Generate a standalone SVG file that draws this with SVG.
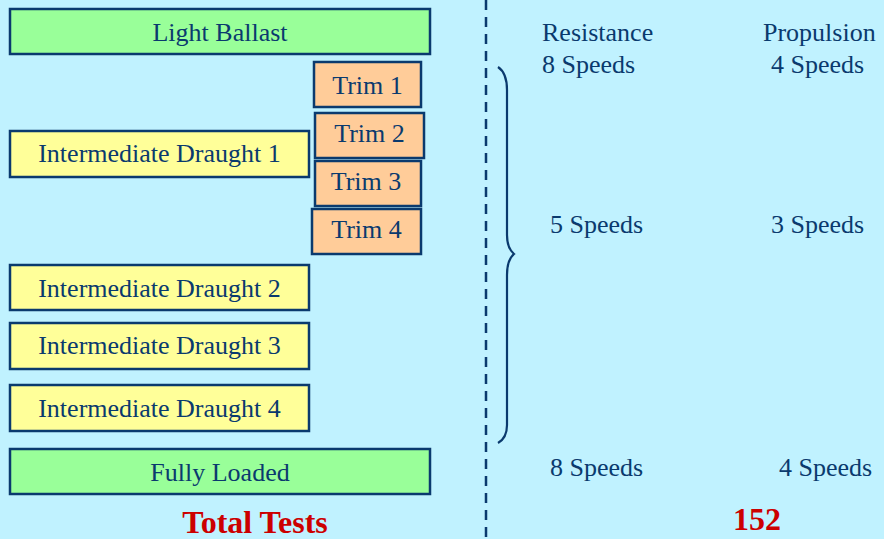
<svg xmlns="http://www.w3.org/2000/svg" width="884" height="539" viewBox="0 0 884 539">
<style>
.box{stroke:#0a3a6e;stroke-width:2.5}
.green{fill:#99ff99}
.yellow{fill:#ffff99}
.orange{fill:#ffcc99}
text{font-family:'Liberation Serif','DejaVu Serif',serif;font-size:26px;fill:#0a3a6e}
.mid{text-anchor:middle}
.total{font-weight:bold;fill:#cc0000;font-size:32px}
.conn{fill:none;stroke:#0a3a6e}
</style>
<rect width="884" height="539" fill="#c0f2ff"/>
<g id="light-ballast"><rect class="box green" x="10" y="9" width="420" height="45"/><text class="mid" x="220" y="41">Light Ballast</text></g>
<g id="trim1"><rect class="box orange" x="314" y="62" width="107" height="45"/><text class="mid" x="367.5" y="94">Trim 1</text></g>
<g id="trim2"><rect class="box orange" x="315" y="113" width="109" height="45"/><text class="mid" x="369.5" y="142">Trim 2</text></g>
<g id="trim3"><rect class="box orange" x="315" y="161" width="106" height="45"/><text class="mid" x="366" y="190">Trim 3</text></g>
<g id="trim4"><rect class="box orange" x="312" y="209" width="109" height="45"/><text class="mid" x="366.5" y="238">Trim 4</text></g>
<g id="id1"><rect class="box yellow" x="10" y="131" width="299" height="46"/><text class="mid" x="159.5" y="162">Intermediate Draught 1</text></g>
<g id="id2"><rect class="box yellow" x="10" y="265" width="299" height="45"/><text class="mid" x="159.5" y="297">Intermediate Draught 2</text></g>
<g id="id3"><rect class="box yellow" x="10" y="323" width="299" height="46"/><text class="mid" x="159.5" y="354">Intermediate Draught 3</text></g>
<g id="id4"><rect class="box yellow" x="10" y="385" width="299" height="46"/><text class="mid" x="159.5" y="417">Intermediate Draught 4</text></g>
<g id="fully-loaded"><rect class="box green" x="10" y="449" width="420" height="45"/><text class="mid" x="220" y="481">Fully Loaded</text></g>
<g id="connectors">
<line class="conn" x1="486" y1="0" x2="486" y2="539" stroke-width="2.5" stroke-dasharray="10 7"/>
<path class="conn" stroke-width="2.2" d="M498 67 Q507 73 507 90 L507 235 Q507 248 514 254 Q507 260 507 275 L507 425 Q507 438 498 443"/>
</g>
<g id="labels">
<text x="542" y="41">Resistance</text>
<text x="542" y="73">8 Speeds</text>
<text x="763" y="41">Propulsion</text>
<text x="771" y="73">4 Speeds</text>
<text x="550" y="233">5 Speeds</text>
<text x="771" y="233">3 Speeds</text>
<text x="550" y="476">8 Speeds</text>
<text x="779" y="476">4 Speeds</text>
<text class="total mid" x="255" y="533">Total Tests</text>
<text class="total mid" x="757" y="530">152</text>
</g>
</svg>
